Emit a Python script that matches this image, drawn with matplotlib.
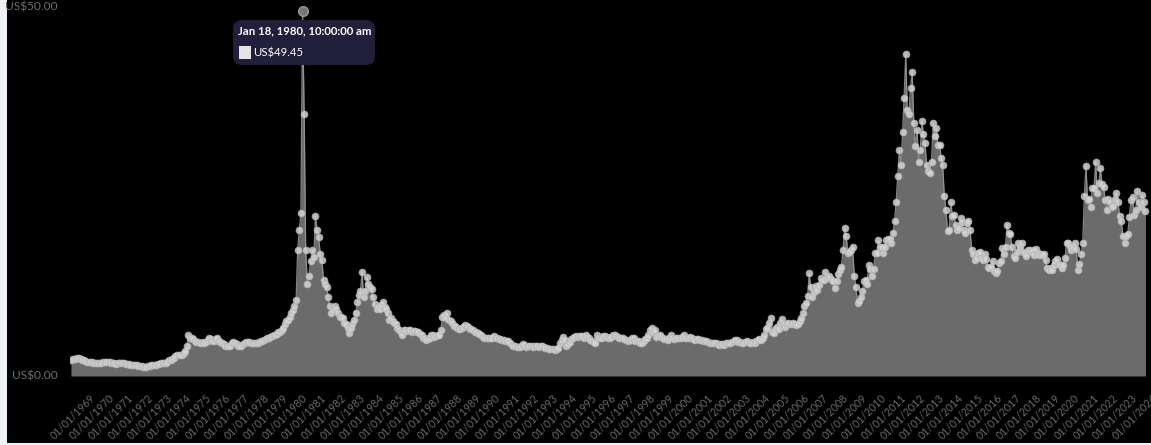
import matplotlib.pyplot as plt
import matplotlib.dates as mdates
from matplotlib.patches import Rectangle, FancyBboxPatch
import numpy as np
import pandas as pd

plt.rcParams['font.family'] = ['Lato', 'DejaVu Sans']

# monthly silver price, US$ per oz, starting Jan 1968
start = '1968-01-01'
prices = [
    2.15, 2.25, 2.3, 2.35, 2.4, 2.45, 2.3, 2.2, 2.2, 2.0, 1.95, 1.95,      # 1968
    1.95, 1.85, 1.8, 1.75, 1.8, 1.7, 1.75, 1.8, 1.85, 1.85, 1.9, 1.95,     # 1969
    1.85, 1.8, 1.75, 1.7, 1.65, 1.7, 1.75, 1.8, 1.75, 1.7, 1.65, 1.65,     # 1970
    1.6, 1.55, 1.5, 1.45, 1.5, 1.45, 1.4, 1.35, 1.3, 1.25, 1.2, 1.2,       # 1971
    1.3, 1.4, 1.45, 1.45, 1.5, 1.55, 1.6, 1.65, 1.7, 1.7, 1.75, 1.8,       # 1972
    1.95, 2.1, 2.2, 2.3, 2.5, 2.7, 2.85, 2.8, 2.8, 2.9, 3.1, 3.4,          # 1973
    4.0, 5.55, 5.2, 5.1, 5.0, 4.8, 4.65, 4.6, 4.5, 4.4, 4.6, 4.5,          # 1974
    4.6, 4.9, 5.1, 5.0, 4.7, 4.8, 5.0, 5.1, 4.8, 4.6, 4.4, 4.3,            # 1975
    4.1, 4.0, 4.0, 4.1, 4.4, 4.65, 4.5, 4.3, 4.1, 4.0, 4.1, 4.3,           # 1976
    4.4, 4.55, 4.65, 4.6, 4.5, 4.4, 4.4, 4.45, 4.5, 4.6, 4.7, 4.8,         # 1977
    4.9, 5.0, 5.1, 5.2, 5.3, 5.4, 5.5, 5.55, 5.7, 5.9, 6.0, 6.2,           # 1978
    6.5, 7.0, 7.4, 7.6, 8.0, 8.5, 8.9, 9.5, 10.3, 17.1, 19.8, 22.0,        # 1979
    49.45, 35.4, 17.1, 12.5, 13.5, 15.5, 17.1, 16.1, 21.7, 19.8, 18.8, 16.5,  # 1980
    15.7, 13.0, 12.5, 12.1, 10.7, 9.5, 8.5, 8.9, 9.5, 9.0, 8.5, 8.0,       # 1981
    8.0, 7.8, 7.2, 7.0, 6.5, 5.8, 6.5, 7.0, 7.6, 8.5, 10.0, 11.0,          # 1982
    11.5, 14.1, 10.7, 11.5, 13.4, 12.5, 12.1, 11.8, 10.7, 9.8, 9.0, 9.3,   # 1983
    9.0, 9.6, 10.0, 9.3, 9.0, 8.5, 7.6, 7.8, 7.4, 7.2, 7.0, 6.5,           # 1984
    6.2, 6.0, 5.5, 6.2, 6.2, 6.1, 6.2, 6.2, 6.0, 6.1, 6.1, 5.9,            # 1985
    6.0, 5.7, 5.5, 5.2, 5.1, 4.9, 5.0, 5.1, 5.6, 5.5, 5.3, 5.4,            # 1986
    5.5, 5.6, 6.2, 8.0, 8.3, 7.9, 8.5, 7.6, 7.4, 7.2, 6.8, 6.7,            # 1987
    6.5, 6.4, 6.4, 6.5, 6.6, 6.9, 6.8, 6.6, 6.4, 6.3, 6.2, 6.0,            # 1988
    5.9, 5.8, 5.7, 5.6, 5.3, 5.2, 5.1, 5.2, 5.2, 5.1, 5.2, 5.4,            # 1989
    5.2, 5.2, 5.0, 5.0, 4.9, 4.9, 4.8, 4.8, 4.7, 4.4, 4.2, 4.1,            # 1990
    4.0, 3.9, 3.9, 3.9, 4.0, 4.3, 4.2, 3.9, 4.0, 4.1, 4.0, 3.9,            # 1991
    4.0, 4.1, 4.0, 3.9, 4.0, 4.0, 3.9, 3.8, 3.8, 3.7, 3.7, 3.7,            # 1992
    3.6, 3.5, 3.6, 3.8, 4.4, 4.9, 5.3, 4.9, 4.1, 4.3, 4.6, 5.0,            # 1993
    5.2, 5.3, 5.4, 5.3, 5.4, 5.4, 5.4, 5.2, 5.5, 5.3, 5.2, 4.9,            # 1994
    4.7, 4.6, 4.4, 5.5, 5.2, 5.1, 5.2, 5.4, 5.4, 5.3, 5.2, 5.2,            # 1995
    5.3, 5.5, 5.5, 5.4, 5.3, 5.2, 5.1, 5.1, 5.0, 4.9, 4.8, 4.9,            # 1996
    4.9, 5.1, 5.2, 4.8, 4.8, 4.7, 4.4, 4.5, 4.8, 5.0, 5.1, 5.6,            # 1997
    6.2, 6.5, 6.0, 6.2, 5.3, 5.4, 5.5, 5.3, 5.2, 5.0, 5.0, 4.9,            # 1998
    5.1, 5.5, 5.2, 5.0, 5.2, 5.1, 5.2, 5.2, 5.3, 5.5, 5.2, 5.2,            # 1999
    5.2, 5.3, 5.1, 5.0, 4.9, 5.0, 5.0, 4.9, 4.9, 4.8, 4.7, 4.7,            # 2000
    4.6, 4.5, 4.4, 4.4, 4.4, 4.4, 4.3, 4.2, 4.3, 4.3, 4.2, 4.5,            # 2001
    4.5, 4.4, 4.5, 4.6, 4.7, 4.9, 4.9, 4.6, 4.6, 4.5, 4.4, 4.6,            # 2002
    4.8, 4.6, 4.5, 4.5, 4.6, 4.5, 4.8, 4.9, 5.0, 4.9, 5.1, 5.5,            # 2003
    6.3, 6.5, 7.2, 7.8, 6.0, 5.8, 6.4, 6.6, 6.3, 7.2, 7.7, 7.0,            # 2004
    6.6, 7.0, 7.2, 7.0, 7.0, 7.2, 7.1, 6.9, 7.0, 7.4, 7.9, 8.5,            # 2005
    9.5, 9.9, 10.8, 13.9, 12.0, 10.7, 11.3, 12.2, 11.6, 12.3, 13.2, 13.0,  # 2006
    13.0, 14.1, 13.3, 13.5, 13.2, 13.0, 12.8, 11.9, 12.8, 13.8, 14.4, 14.8,  # 2007
    17.1, 20.0, 19.0, 16.6, 16.8, 17.0, 17.5, 13.5, 12.0, 9.9, 10.2, 10.7,   # 2008
    11.5, 12.8, 13.0, 12.5, 15.0, 14.5, 13.5, 14.5, 16.7, 16.6, 18.4, 17.5,  # 2009
    17.5, 16.6, 17.5, 18.4, 18.6, 18.5, 18.0, 19.4, 21.0, 23.5, 27.0, 30.6,  # 2010
    28.5, 33.0, 37.6, 43.6, 36.0, 35.5, 39.0, 41.2, 34.2, 31.1, 33.3, 29.0,  # 2011
    30.6, 34.5, 32.8, 31.5, 28.5, 27.7, 27.5, 29.0, 34.2, 32.5, 33.5, 31.3,  # 2012
    31.3, 29.5, 28.5, 24.3, 22.5, 19.6, 19.8, 23.6, 21.6, 21.8, 20.4, 19.8,  # 2013
    20.0, 21.4, 20.8, 19.7, 19.3, 20.7, 21.0, 19.8, 17.1, 16.5, 15.7, 16.0,  # 2014
    16.6, 16.8, 16.0, 15.7, 16.5, 15.8, 14.8, 14.6, 14.8, 15.5, 14.2, 13.9,  # 2015
    14.2, 15.3, 15.5, 17.3, 16.5, 17.5, 20.5, 19.4, 19.2, 17.5, 16.2, 16.0,  # 2016
    16.8, 18.0, 17.5, 18.0, 16.8, 16.7, 16.2, 17.0, 17.0, 16.8, 17.0, 16.4,  # 2017
    17.2, 16.6, 16.4, 16.5, 16.4, 16.5, 15.7, 14.6, 14.4, 14.6, 14.4, 15.0,  # 2018
    15.5, 15.8, 15.2, 15.0, 14.6, 15.0, 16.0, 18.0, 18.0, 17.6, 17.0, 17.5,  # 2019
    18.0, 17.2, 14.4, 15.2, 16.5, 18.0, 24.3, 28.4, 23.8, 24.0, 22.9, 25.5,  # 2020
    25.5, 29.0, 24.8, 26.1, 28.1, 26.0, 25.6, 23.8, 22.5, 24.0, 23.5, 22.9,  # 2021
    23.0, 24.0, 24.8, 23.5, 21.6, 21.0, 19.0, 18.0, 18.9, 19.2, 21.5, 23.8,  # 2022
    24.2, 21.8, 22.5, 25.0, 23.5, 22.9, 24.5, 23.5, 22.3,                    # 2023
]
years = list(range(1969, 2025))
y_ticks = [0, 50]
tip_date = 'Jan 18, 1980, 10:00:00 am'
tip_value = 49.45

dates = pd.date_range(start, periods=len(prices), freq='MS') + pd.Timedelta(days=17)

W, H = 1151, 445
fig = plt.figure(figsize=(W / 100, H / 100), dpi=100)
fig.patch.set_facecolor('#eef1f4')
fig.add_artist(Rectangle((7 / W, 2 / H), 1, 1, transform=fig.transFigure,
                         facecolor='black', edgecolor='none', zorder=0))

ax = fig.add_axes([70 / W, (H - 376) / H, 1081 / W, 369.5 / H])
ax.patch.set_alpha(0)

ax.fill_between(dates, prices, 0, color='#6b6b6b', lw=0, zorder=1)
ax.plot(dates, prices, color='#9a9a9a', lw=0.9, zorder=2,
        marker='o', ms=5, mfc='#d4d4d4', mec='#b0b0b0', mew=0.5, alpha=0.85)

ax.set_xlim(pd.Timestamp('1968-01-01'), pd.Timestamp('2023-09-16'))
ax.set_ylim(0, 50)

ax.set_yticks(y_ticks)
ax.set_yticklabels([f'US${v:.2f}' for v in y_ticks])
ax.set_xticks([pd.Timestamp(f'{y}-01-01') for y in years])
ax.xaxis.set_major_formatter(mdates.DateFormatter('%d/%m/%Y'))
ax.tick_params(axis='y', length=0, pad=9, labelsize=8.6, labelcolor='#707070')
ax.tick_params(axis='x', length=0, pad=12, labelsize=7.6, labelcolor='#6a6a6a')
for lab in ax.get_xticklabels():
    lab.set_rotation(45)
    lab.set_ha('right')
    lab.set_va('top')
    lab.set_rotation_mode('anchor')
for lab in ax.get_yticklabels():
    lab.set_va('center')
for s in ax.spines.values():
    s.set_visible(False)

# hovered point and tooltip
i = int(np.argmax(prices))
ax.plot(dates[i], tip_value, 'o', ms=7, mfc='#777777', mec='#9a9a9a', mew=1,
        zorder=5, clip_on=False)

fig.add_artist(FancyBboxPatch((233 / W, (H - 65) / H), 142 / W, 45 / H,
                              boxstyle='round,pad=0,rounding_size=0.008',
                              transform=fig.transFigure, facecolor='#221f3a',
                              edgecolor='none', zorder=6, mutation_aspect=W / H))
fig.text(238 / W, (H - 31) / H, tip_date, color='white', fontsize=8.2,
         fontweight='bold', va='center', ha='left', zorder=7)
fig.add_artist(Rectangle((238.5 / W, (H - 59) / H), 12.5 / W, 13 / H,
                         transform=fig.transFigure, facecolor='#e4e4e4',
                         edgecolor='none', zorder=7))
fig.text(253 / W, (H - 52.5) / H, f'US${tip_value:.2f}', color='white',
         fontsize=8.2, va='center', ha='left', zorder=7)

fig.savefig('out.png', dpi=100, facecolor=fig.get_facecolor())
